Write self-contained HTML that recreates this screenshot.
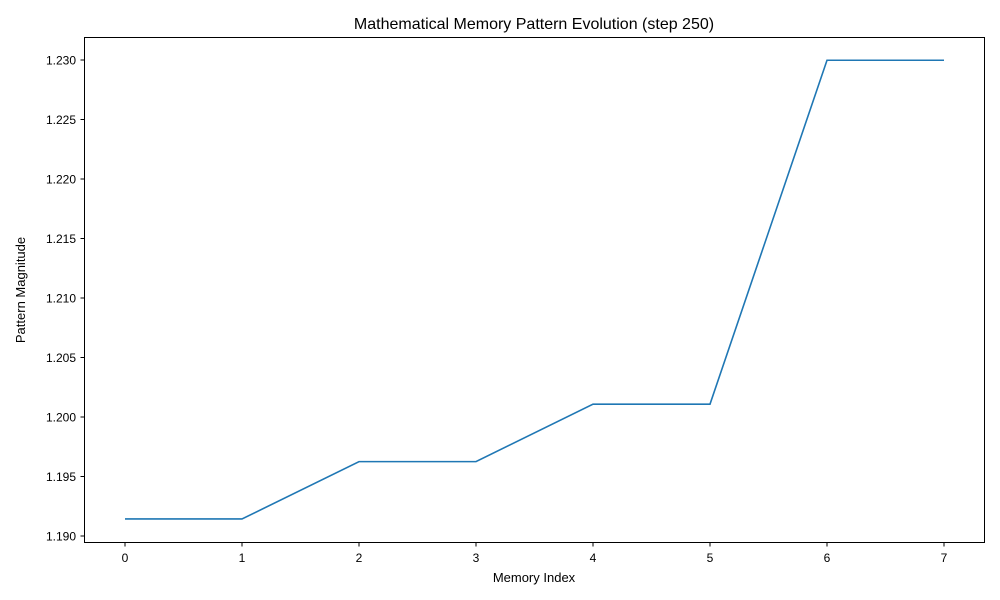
<!DOCTYPE html>
<html><head><meta charset="utf-8"><style>
body{margin:0;background:#fff;}
svg{display:block;font-family:"Liberation Sans","DejaVu Sans",sans-serif;}
</style></head><body>
<svg id="chart" width="1000" height="600">
<rect width="1000" height="600" fill="#fff"/>
<text x="534" y="29" font-size="16" text-anchor="middle">Mathematical Memory Pattern Evolution (step 250)</text>
<text x="534" y="582" font-size="13" text-anchor="middle">Memory Index</text>
<text x="25" y="290" font-size="13" text-anchor="middle" transform="rotate(-90 25 290)">Pattern Magnitude</text>
<g id="ticks"></g>
<polyline id="line" fill="none" stroke="#1f77b4" stroke-width="1.6"/>
<rect x="84.5" y="37.5" width="900" height="505" fill="none" stroke="#000" stroke-width="1"/>
</svg>
<script>
const indices = [0,1,2,3,4,5,6,7];
const magnitudes = [1.19143,1.19143,1.19625,1.19625,1.20108,1.20108,1.22998,1.22998];
const xTicks = [0,1,2,3,4,5,6,7];
const yTicks = [1.190,1.195,1.200,1.205,1.210,1.215,1.220,1.225,1.230];
const NS="http://www.w3.org/2000/svg";
function xs(v){return 125+v*117;}
function ys(v){return 536-(v-1.190)*11900;}
const g=document.getElementById('ticks');
xTicks.forEach(t=>{
  const l=document.createElementNS(NS,'line');
  l.setAttribute('x1',xs(t));l.setAttribute('x2',xs(t));l.setAttribute('y1',542.5);l.setAttribute('y2',546.5);l.setAttribute('stroke','#000');
  
  
  g.appendChild(l);
  const tx=document.createElementNS(NS,'text');
  tx.setAttribute('x',xs(t));tx.setAttribute('y',562);tx.setAttribute('font-size','12');tx.setAttribute('text-anchor','middle');
  tx.textContent=t;
  
  
  g.appendChild(tx);
});
yTicks.forEach(t=>{
  const y=ys(t);
  const l=document.createElementNS(NS,'line');
  l.setAttribute('x1',80.5);l.setAttribute('x2',84.5);l.setAttribute('y1',y);l.setAttribute('y2',y);l.setAttribute('stroke','#000');
  
  
  g.appendChild(l);
  const tx=document.createElementNS(NS,'text');
  tx.setAttribute('x',76);tx.setAttribute('y',y+4.5);tx.setAttribute('font-size','12');tx.setAttribute('text-anchor','end');
  tx.textContent=t.toFixed(3);
  
  
  g.appendChild(tx);
});
document.getElementById('line').setAttribute('points',indices.map((x,i)=>xs(x)+','+ys(magnitudes[i])).join(' '));
</script>
</body></html>
